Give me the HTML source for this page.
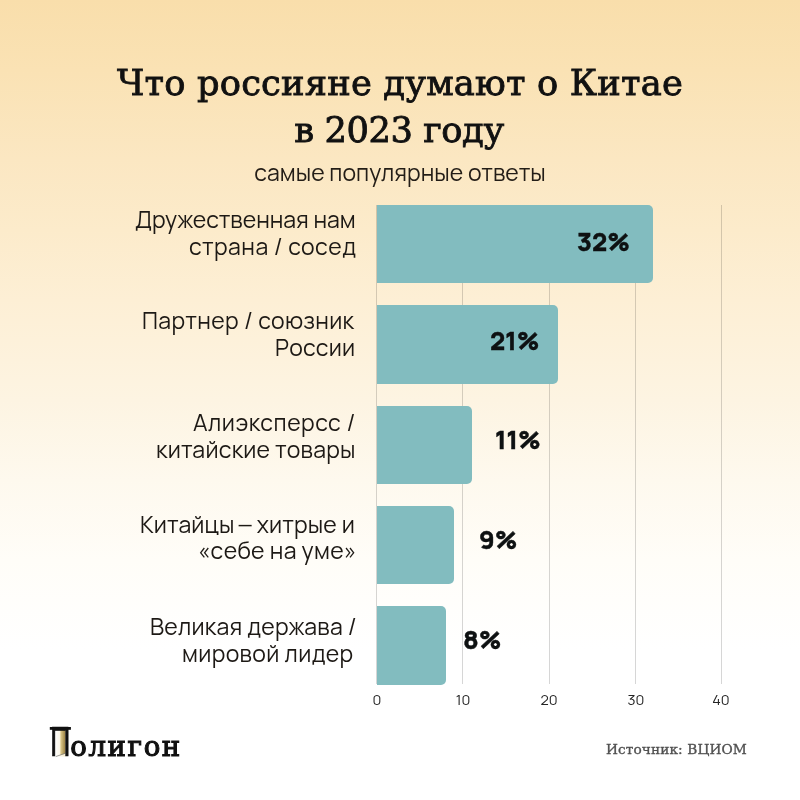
<!DOCTYPE html>
<html lang="ru">
<head>
<meta charset="utf-8">
<title>Что россияне думают о Китае в 2023 году</title>
<style>
html,body{margin:0;padding:0;}
body{width:800px;height:800px;overflow:hidden;position:relative;
  background:linear-gradient(180deg,#F9DEAB 0px,#FAE2B4 70px,#FBE7C2 160px,#FCEBCB 230px,#FDEFD5 300px,#FDF4E2 400px,#FEF9EE 480px,#FFFDF8 560px,#FFFFFF 650px,#FFFFFF 800px);}
.a{position:absolute;white-space:nowrap;will-change:transform;}
.tt{font-family:"DejaVu Serif","Liberation Serif",serif;font-size:35.3px;line-height:48px;color:#111;-webkit-text-stroke:0.85px #111;}
.sn{font-family:"Manrope","Liberation Sans",sans-serif;font-size:23px;line-height:27px;color:#1d1915;}
.grid{position:absolute;top:205px;height:479px;width:1px;background:rgba(0,0,0,0.16);}
.bar{position:absolute;left:377.0px;height:78.4px;background:#82BCBF;border-radius:0 5px 5px 0;}
.pct{font-family:"Manrope","Liberation Sans",sans-serif;font-weight:800;font-size:25.3px;line-height:30px;color:#0e1112;-webkit-text-stroke:0.4px #0e1112;}
.tick{width:40px;text-align:center;font-family:"Manrope","Liberation Sans",sans-serif;font-size:14.5px;line-height:18px;color:#242424;}
.src{font-family:"DejaVu Serif","Liberation Serif",serif;font-size:13.7px;line-height:20px;color:#505050;-webkit-text-stroke:0.35px #505050;}
</style>
</head>
<body>
<div class="a tt" style="left:0.16px;width:800px;text-align:center;top:58.59px;letter-spacing:0.17px">Что россияне думают о Китае</div>
<div class="a tt" style="left:-0.8px;width:800px;text-align:center;top:105.79px;letter-spacing:-0.45px">в 2023 году</div>
<div class="a sn" style="left:0.3px;width:800px;text-align:center;top:158.69px;letter-spacing:0.05px;color:#231d17">самые популярные ответы</div>

<div class="grid" style="left:375.7px"></div>
<div class="grid" style="left:462.3px"></div>
<div class="grid" style="left:548.7px"></div>
<div class="grid" style="left:634.9px"></div>
<div class="grid" style="left:720.8px"></div>
<div class="bar" style="top:205px;width:275.52px"></div>
<div class="bar" style="top:305.3px;width:180.81px"></div>
<div class="bar" style="top:405.6px;width:94.71px"></div>
<div class="bar" style="top:505.9px;width:77.49px"></div>
<div class="bar" style="top:606.2px;width:68.88px"></div>

<div class="a sn" style="right:444.81px;text-align:right;top:205.59px;letter-spacing:0.0px">Дружественная нам</div>
<div class="a sn" style="right:443.94px;text-align:right;top:232.89px;letter-spacing:0.47px">страна / сосед</div>
<div class="a sn" style="right:446.05px;text-align:right;top:307.29px;letter-spacing:0.35px">Партнер / союзник</div>
<div class="a sn" style="right:444.73px;text-align:right;top:333.79px;letter-spacing:0.28px">России</div>
<div class="a sn" style="right:444.38px;text-align:right;top:408.99px;letter-spacing:0.5px">Алиэксперсс /</div>
<div class="a sn" style="right:444.56px;text-align:right;top:435.99px;letter-spacing:0.23px">китайские товары</div>
<div class="a sn" style="right:445.05px;text-align:right;top:510.59px;letter-spacing:0.16px">Китайцы <span style="display:inline-block;transform:scaleX(1.35)">–</span> хитрые и</div>
<div class="a sn" style="right:443.8px;text-align:right;top:537.49px;letter-spacing:0.3px">«себе на уме»</div>
<div class="a sn" style="right:442.84px;text-align:right;top:612.79px;letter-spacing:0.25px">Великая держава /</div>
<div class="a sn" style="right:446.08px;text-align:right;top:639.79px;letter-spacing:0.35px">мировой лидер</div>

<div class="a pct" style="left:577px;top:226.51px">32%</div>
<div class="a pct" style="left:489.5px;top:325.81px">21%</div>
<div class="a pct" style="left:494.6px;top:424.91px">11%</div>
<div class="a pct" style="left:478.75px;top:524.81px">9%</div>
<div class="a pct" style="left:463.4px;top:624.81px">8%</div>

<div class="a tick" style="left:356.7px;top:691.15px">0</div>
<div class="a tick" style="left:443px;top:691.15px">10</div>
<div class="a tick" style="left:529px;top:691.15px">20</div>
<div class="a tick" style="left:615.5px;top:691.15px">30</div>
<div class="a tick" style="left:701px;top:691.15px">40</div>

<div class="a src" style="right:52.7px;text-align:right;top:738.86px;letter-spacing:0.1px">Источник: ВЦИОМ</div>

<svg class="a" style="left:0;top:0" width="80" height="800" viewBox="0 0 80 800">
  <defs>
    <linearGradient id="leaf" x1="0" y1="0" x2="1" y2="0">
      <stop offset="0" stop-color="#e2cf93"/>
      <stop offset="1" stop-color="#9a8040"/>
    </linearGradient>
    <linearGradient id="open" x1="0" y1="0" x2="1" y2="0">
      <stop offset="0" stop-color="#ffffff"/>
      <stop offset="1" stop-color="#f6eccc"/>
    </linearGradient>
  </defs>
  <rect x="55.2" y="729.5" width="10.2" height="27.1" fill="url(#open)"/>
  <path d="M60.3 729.5 L65.4 729.5 L65.4 753.6 L60.3 755.2 Z" fill="url(#leaf)"/>
  <path d="M55.7 756.6 L65.2 753.3" stroke="#777" stroke-width="0.7" fill="none"/>
  <rect x="49.8" y="727" width="21.1" height="2.8" fill="#111"/>
</svg>
<div class="a" style="left:50px;top:729.75px;font-family:'DejaVu Serif','Liberation Serif',serif;font-size:27.6px;line-height:34px;color:#111;"><span style="display:inline-block;width:20.25px;font-family:'Liberation Sans','DejaVu Sans',sans-serif;font-size:42.2px;line-height:20px;transform:scaleX(0.674);transform-origin:0 0;-webkit-text-stroke:0.6px #111">П</span><span style="-webkit-text-stroke:1.1px #111;letter-spacing:1.6px">олигон</span></div>
</body>
</html>
